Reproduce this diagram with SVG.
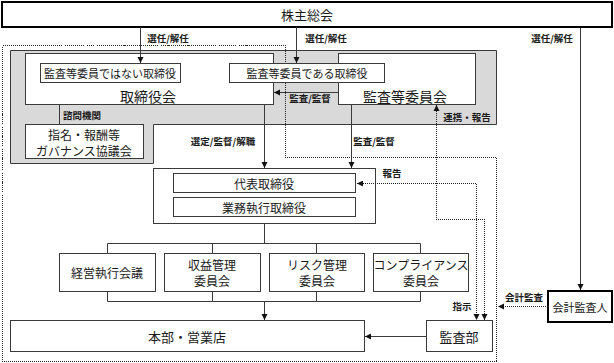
<svg xmlns="http://www.w3.org/2000/svg" width="614" height="363" viewBox="0 0 614 363">
<defs>
<marker id="ah" markerUnits="userSpaceOnUse" markerWidth="7" markerHeight="7" refX="6" refY="3" orient="auto">
<path d="M0,0 L6,3 L0,6 Z" fill="#111"/>
</marker>
<marker id="ahs" markerUnits="userSpaceOnUse" markerWidth="7" markerHeight="7" refX="0" refY="3" orient="auto">
<path d="M6,0 L0,3 L6,6 Z" fill="#111"/>
</marker>
</defs>
<style>
text{font-family:"Noto Sans CJK JP","Noto Sans CJK SC",sans-serif;fill:#1a1a1a;text-anchor:middle;dominant-baseline:central}
.box{fill:#fff;stroke:#3a3a3a;stroke-width:1}
.thick{fill:#fff;stroke:#000;stroke-width:2}
.ln{fill:none;stroke:#3a3a3a;stroke-width:1}
.dot{fill:none;stroke:#222;stroke-width:1;stroke-dasharray:1 1;shape-rendering:crispEdges}
.lbl{font-size:9.5px;font-weight:bold}
.t11{font-size:11px}
.t12{font-size:12px}
.t13{font-size:13px}
</style>
<rect width="614" height="363" fill="#fff"/>
<g id="boundary">
<path class="dot" d="M2.5,45.5 H285.5 V157.5 H496.5 V361.5 H2.5 Z"/>
</g>
<g id="board-area">
<path d="M10.5,50.5 H496.5 V124.5 H153.5 V163.5 H10.5 Z" fill="#d9d9d9" stroke="#3a3a3a"/>
<path class="dot" d="M285.5,50.5 V124.5"/>
</g>
<g id="shareholders">
<rect class="thick" x="2" y="2" width="610" height="25"/>
<text class="t13" x="307" y="14.5">株主総会</text>
</g>
<g id="board">
<rect class="box" x="25.5" y="53.5" width="248" height="51"/>
<text x="148" y="96" style="font-size:14px">取締役会</text>
</g>
<g id="audit-committee">
<rect class="box" x="338.5" y="53.5" width="137" height="51"/>
<text x="405" y="96" style="font-size:14px">監査等委員会</text>
</g>
<g id="non-audit-directors">
<rect class="box" x="40.5" y="63.5" width="140" height="19"/>
<text class="t11" x="110" y="73">監査等委員ではない取締役</text>
</g>
<g id="audit-directors">
<rect class="box" x="229.5" y="63.5" width="155" height="19"/>
<text class="t11" x="307" y="73">監査等委員である取締役</text>
</g>
<g id="governance-council">
<rect class="box" x="25.5" y="124.5" width="118" height="34"/>
<text class="t12" x="84" y="134">指名・報酬等</text>
<text class="t12" x="84" y="150">ガバナンス協議会</text>
</g>
<g id="executive">
<rect class="box" x="153.5" y="168.5" width="222" height="55"/>
</g>
<g id="representative">
<rect class="box" x="173.5" y="173.5" width="182" height="19"/>
<text class="t12" x="264" y="183">代表取締役</text>
</g>
<g id="executive-directors">
<rect class="box" x="173.5" y="197.5" width="182" height="19"/>
<text class="t12" x="264" y="207">業務執行取締役</text>
</g>
<g id="management-meeting">
<rect class="box" x="59.5" y="253.5" width="96" height="38"/>
<text class="t12" x="107" y="272">経営執行会議</text>
</g>
<g id="revenue-committee">
<rect class="box" x="164.5" y="253.5" width="96" height="38"/>
<text class="t12" x="212" y="264">収益管理</text>
<text class="t12" x="212" y="280">委員会</text>
</g>
<g id="risk-committee">
<rect class="box" x="269.5" y="253.5" width="95" height="38"/>
<text class="t12" x="317" y="264">リスク管理</text>
<text class="t12" x="317" y="280">委員会</text>
</g>
<g id="compliance-committee">
<rect class="box" x="373.5" y="253.5" width="95" height="38"/>
<text class="t12" x="421" y="264">コンプライアンス</text>
<text class="t12" x="421" y="280">委員会</text>
</g>
<g id="branches">
<rect class="box" x="10.5" y="320.5" width="354" height="31"/>
<text class="t13" x="187" y="336">本部・営業店</text>
</g>
<g id="internal-audit">
<rect class="box" x="426.5" y="320.5" width="66" height="31"/>
<text class="t13" x="459" y="336">監査部</text>
</g>
<g id="external-auditor">
<rect class="thick" x="548" y="291" width="64" height="31"/>
<text class="t11" x="580" y="306.5">会計監査人</text>
</g>
<g id="connectors">
<path class="ln" d="M140.5,27 V63" marker-end="url(#ah)"/>
<path class="ln" d="M296.5,27 V63" marker-end="url(#ah)"/>
<path class="ln" d="M580.5,28 V290" marker-end="url(#ah)"/>
<path class="ln" d="M338,92.5 H274" marker-end="url(#ah)"/>
<path class="ln" d="M59.5,105 V124"/>
<path class="ln" d="M264.5,105 V168" marker-end="url(#ah)"/>
<path class="ln" d="M351.5,105 V168" marker-end="url(#ah)"/>
<path class="ln" d="M264.5,224 V243.5 M107.5,253 V243.5 H420.5 V253 M212.5,243.5 V253 M316.5,243.5 V253"/>
<path class="ln" d="M107.5,292 V301.5 H420.5 V292 M212.5,292 V301.5 M316.5,292 V301.5"/>
<path class="ln" d="M264.5,301.5 V320" marker-end="url(#ah)"/>
<path class="ln" d="M426,336.5 H365" marker-end="url(#ah)"/>
<path class="dot" d="M357,183.5 H476.5 V320" marker-start="url(#ahs)" marker-end="url(#ah)"/>
<path class="dot" d="M436.5,105 V219.5 H484.5 V320" marker-start="url(#ahs)" marker-end="url(#ah)"/>
<path class="dot" d="M548,306.5 H498" marker-end="url(#ah)"/>
<text class="lbl" x="168" y="38">選任/解任</text>
<text class="lbl" x="326" y="38">選任/解任</text>
<text class="lbl" x="552" y="38">選任/解任</text>
<text class="lbl" x="310" y="98">監査/監督</text>
<text class="lbl" x="82" y="115">諮問機関</text>
<text class="lbl" x="223" y="141">選定/監督/解職</text>
<text class="lbl" x="374" y="141">監査/監督</text>
<text class="lbl" x="467" y="117">連携・報告</text>
<text class="lbl" x="392" y="173">報告</text>
<text class="lbl" x="462" y="306">指示</text>
<text class="lbl" x="524" y="297">会計監査</text>
</g>
</svg>
